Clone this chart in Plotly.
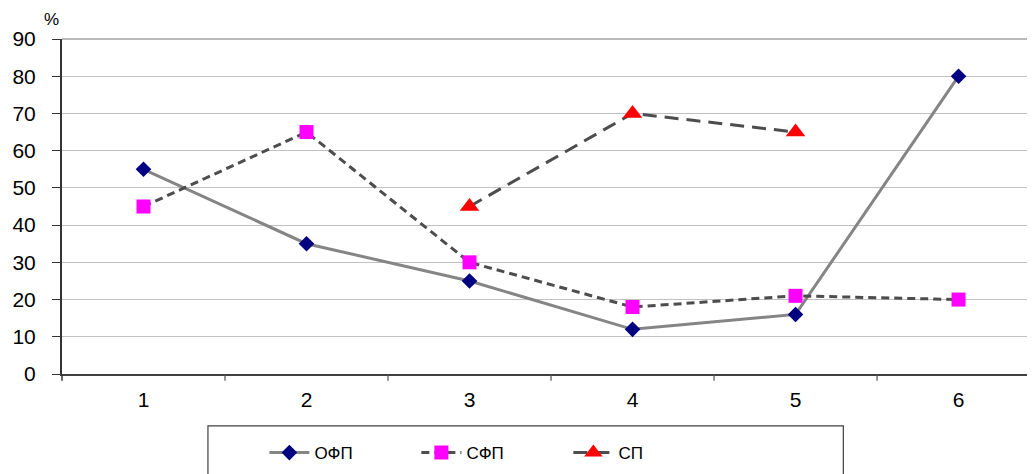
import plotly.graph_objects as go

categories = [1, 2, 3, 4, 5, 6]
ofp = [55, 35, 25, 12, 16, 80]
sfp = [45, 65, 30, 18, 21, 20]
sp = [None, None, 45, 70, 65, None]
y_ticks = [0, 10, 20, 30, 40, 50, 60, 70, 80, 90]

FONT = "Liberation Sans, Arial, sans-serif"

fig = go.Figure()
fig.add_trace(go.Scatter(
    x=categories, y=ofp, name="ОФП", mode="lines+markers",
    line=dict(color="#858585", width=3),
    marker=dict(symbol="diamond", color="#000080", size=12),
))
fig.add_trace(go.Scatter(
    x=categories, y=sfp, name="СФП", mode="lines+markers",
    line=dict(color="#4d4d4d", width=3, dash="8px,5px"),
    marker=dict(symbol="square", color="#ff00ff", size=14),
))
fig.add_trace(go.Scatter(
    x=categories, y=sp, name="СП", mode="lines+markers",
    line=dict(color="#4d4d4d", width=3, dash="14px,8px"),
    marker=dict(symbol="triangle-up", color="#ff0000", size=17),
))

fig.update_layout(
    width=1027, height=466,
    margin=dict(l=54, r=0, t=31, b=100),
    paper_bgcolor="white", plot_bgcolor="white",
    font=dict(family=FONT, color="black"),
    showlegend=True,
    legend=dict(
        orientation="h", x=0.208, xanchor="left", y=-0.236, yanchor="middle",
        font=dict(size=17, family=FONT), entrywidth=97, entrywidthmode="pixels",
        bgcolor="rgba(0,0,0,0)", itemwidth=40,
    ),
    xaxis=dict(
        range=[0.5, 6.469], tickvals=categories, ticktext=[str(c) for c in categories],
        showgrid=False, showline=True, linecolor="#404040", linewidth=1.5,
        ticks="", tickfont=dict(size=21), zeroline=False, fixedrange=True,
        ticklabelstandoff=6,
    ),
    yaxis=dict(
        range=[0, 90], tickvals=y_ticks, ticks="outside", ticklen=8, tickcolor="#333333",
        showgrid=True, gridcolor="#c0c0c0", gridwidth=1.2,
        showline=True, linecolor="#333333", linewidth=2, zeroline=False,
        tickfont=dict(size=21), ticklabelstandoff=12,
    ),
    shapes=[
        # category boundary tick marks on x axis
        *[dict(type="line", xref="x", yref="paper", x0=b, x1=b, y0=0, y1=-0.02,
               line=dict(color="#505050", width=1.2)) for b in [1.5, 2.5, 3.5, 4.5, 5.5]],
        dict(type="line", xref="paper", yref="paper", x0=0, x1=0, y0=0, y1=-0.02,
             line=dict(color="#333333", width=1.5)),
        dict(type="line", xref="paper", yref="paper", x0=0, x1=1, y0=1, y1=1,
             line=dict(color="#a0a0a0", width=1.5)),
        dict(type="rect", xref="paper", yref="paper", x0=0.150, x1=0.803, y0=-0.6, y1=-0.155,
             line=dict(color="#404040", width=1.2), fillcolor="rgba(0,0,0,0)"),
    ],
    annotations=[
        dict(text="%", xref="paper", yref="paper", x=-0.0103, y=1.057, showarrow=False,
             font=dict(size=17, family=FONT), xanchor="center", yanchor="middle"),
    ],
)

fig.write_html("out.html")
